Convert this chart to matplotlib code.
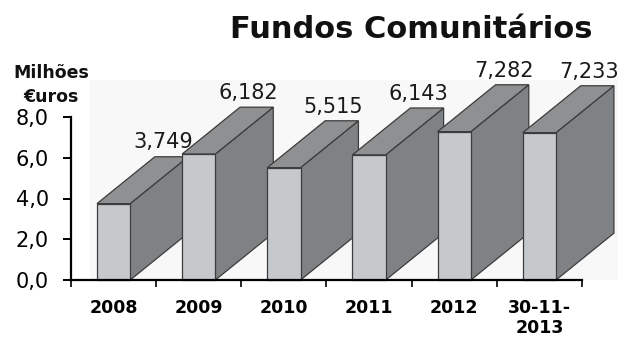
import matplotlib
matplotlib.use("Agg")
import matplotlib.pyplot as plt
from matplotlib.patches import Polygon, Rectangle

categories = ["2008", "2009", "2010", "2011", "2012", "30-11-\n2013"]
values = [3.749, 6.182, 5.515, 6.143, 7.282, 7.233]
value_labels = ["3,749", "6,182", "5,515", "6,143", "7,282", "7,233"]
yticks = [0, 2, 4, 6, 8]
ytick_labels = ["0,0", "2,0", "4,0", "6,0", "8,0"]

W, H = 626, 337
fig = plt.figure(figsize=(W / 100, H / 100), dpi=100)
fig.patch.set_facecolor("white")

ax = fig.add_axes([71 / W, 57 / H, 511 / W, 163 / H])
ax.set_facecolor("none")
ax.set_xlim(-0.5, 5.5)
ax.set_ylim(0, 8)

# faint plot backdrop
ax.add_patch(Rectangle((90 / W, 57 / H), (618 - 90) / W, (337 - 57 - 80) / H,
                       transform=fig.transFigure, facecolor="#f8f8f8",
                       edgecolor="none", zorder=0.1, clip_on=False))

front_w = 0.39
dx, dy = 0.68, 2.3
c_front, c_top, c_side, c_edge = "#c6c9cb", "#8f9091", "#7f8284", "#3c3c3c"

for i, v in enumerate(values):
    l, r = i - front_w / 2, i + front_w / 2
    z = 3 + i * 3
    side = Polygon([(r, 0), (r + dx, dy), (r + dx, v + dy), (r, v)], closed=True,
                   facecolor=c_side, edgecolor=c_edge, lw=0.9, zorder=z, clip_on=False)
    top = Polygon([(l, v), (l + dx, v + dy), (r + dx, v + dy), (r, v)], closed=True,
                  facecolor=c_top, edgecolor=c_edge, lw=0.9, zorder=z + 0.5, clip_on=False)
    front = Rectangle((l, 0), front_w, v, facecolor=c_front, edgecolor=c_edge,
                      lw=0.9, zorder=z + 1, clip_on=False)
    ax.add_patch(side)
    ax.add_patch(top)
    ax.add_patch(front)
    ax.text(i + 0.58, v + dy + 0.7, value_labels[i], ha="center", va="center",
            fontsize=15, color="#1a1a1a", zorder=40, clip_on=False)

for s in ["top", "right"]:
    ax.spines[s].set_visible(False)
ax.spines["left"].set_linewidth(1.6)
ax.spines["bottom"].set_linewidth(1.6)
ax.spines["left"].set_zorder(50)
ax.spines["bottom"].set_zorder(50)

ax.set_yticks(yticks)
ax.set_yticklabels(ytick_labels, fontsize=15)
ax.tick_params(axis="y", direction="out", length=6, width=1.4, pad=10)

ax.set_xticks(range(len(categories)))
ax.set_xticklabels(categories, fontsize=12.5, fontweight="bold", linespacing=1.1)
ax.tick_params(axis="x", which="major", length=0, pad=14)
ax.set_xticks([i - 0.5 for i in range(len(categories) + 1)], minor=True)
ax.tick_params(axis="x", which="minor", direction="out", length=5, width=1.2)

fig.text(411 / W, 1 - 29 / H, "Fundos Comunitários", ha="center", va="center",
         fontsize=22, fontweight="bold", color="#111111")
fig.text(51 / W, 1 - 73 / H, "Milhões", ha="center", va="center",
         fontsize=12.5, fontweight="bold", color="#111111")
fig.text(51 / W, 1 - 97 / H, "€uros", ha="center", va="center",
         fontsize=12.5, fontweight="bold", color="#111111")

fig.savefig("out.png", dpi=100)
